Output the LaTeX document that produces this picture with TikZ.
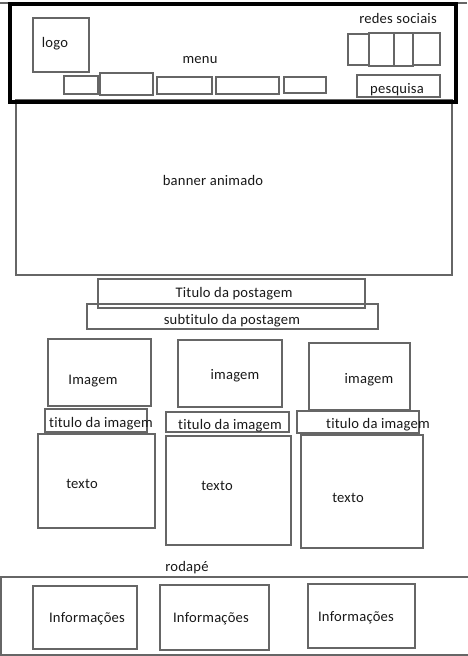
\documentclass[tikz,border=0pt]{standalone}
\usepackage{fontspec}
\setmainfont{Carlito}[RawFeature=-liga, LetterSpace=1.5]
\begin{document}
\begin{tikzpicture}[x=1pt,y=-1pt,
  box/.style={draw=black!60, line width=1.6pt},
  frame/.style={draw=black, line width=4pt},
  lbl/.style={inner sep=0pt, yshift=-1.5pt, font=\fontsize{14.6}{16}\selectfont, text=black!90}]
\useasboundingbox[fill=white] (0,0) rectangle (467,656);

% header strip and animated banner
\draw[box] (0,3) -- (467,3);
\draw[box] (16,100) rectangle (452,275);
\node[lbl] (banner) at (213,179) {banner animado};

% header frame
\draw[frame] (10,4) rectangle (456,102);
\draw[box] (33,18) rectangle (89,72);
\node[lbl] (logo) at (55,42) {logo};
\node[lbl] (menu) at (200,59) {menu};
\draw[box] (64,76) rectangle (98,94);
\draw[box] (100,73) rectangle (153,95);
\draw[box] (157,77) rectangle (212,94);
\draw[box] (216,77) rectangle (279,94);
\draw[box] (284,77) rectangle (326,93);
\node[lbl] (redes) at (398,17) {redes sociais};
\draw[box] (348,34) rectangle (369,65);
\draw[box] (369,33) rectangle (394,66);
\draw[box] (394,33) rectangle (413,66);
\draw[box] (413,33) rectangle (440,65);
\draw[box] (357,75) rectangle (440,97);
\node[lbl] (pesquisa) at (397,88) {pesquisa};

% post title and subtitle
\draw[box] (98,279) rectangle (365,308);
\node[lbl] (titulo) at (234,292) {Titulo da postagem};
\draw[box] (87,304) rectangle (378,329);
\node[lbl] (subtitulo) at (232,319) {subtitulo da postagem};

% three columns: image, caption, text
\draw[box] (48,339) rectangle (151,406);
\node[lbl] (img1) at (93,380) {Imagem};
\draw[box] (178,340) rectangle (282,407);
\node[lbl] (img2) at (235,374) {imagem};
\draw[box] (309,343) rectangle (410,410);
\node[lbl] (img3) at (369,378) {imagem};

\draw[box] (45,409) rectangle (147,432);
\node[lbl] (cap1) at (101,422) {titulo da imagem};
\draw[box] (166,412) rectangle (289,432);
\node[lbl] (cap2) at (230,424) {titulo da imagem};
\draw[box] (297,411) rectangle (419,433);
\node[lbl] (cap3) at (378,423) {titulo da imagem};

\draw[box] (38,434) rectangle (155,528);
\node[lbl] (txt1) at (82,482) {texto};
\draw[box] (166,436) rectangle (291,545);
\node[lbl] (txt2) at (217,484) {texto};
\draw[box] (301,435) rectangle (423,548);
\node[lbl] (txt3) at (348,496) {texto};

% footer
\node[lbl] (rodape) at (187,566) {rodapé};
\draw[box] (1,577) rectangle (472,655);
\draw[box] (33,586) rectangle (137,649);
\node[lbl] (info1) at (87,617) {Informações};
\draw[box] (160,585) rectangle (269,650);
\node[lbl] (info2) at (211,617) {Informações};
\draw[box] (308,584) rectangle (415,648);
\node[lbl] (info3) at (356,616) {Informações};
\end{tikzpicture}
\end{document}
